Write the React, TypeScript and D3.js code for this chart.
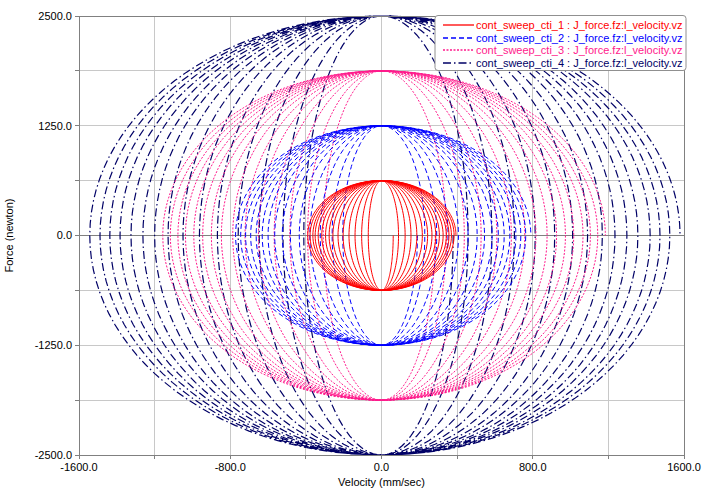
import React from 'react';
import * as d3 from 'd3';

// Axis ticks
const xMajorTicks = [-1600, -800, 0, 800, 1600];
const xGridTicks = [-1600, -1200, -800, -400, 0, 400, 800, 1200, 1600];
const yMajorTicks = [-2500, -1250, 0, 1250, 2500];
const yGridTicks = [-2500, -1875, -1250, -625, 0, 625, 1250, 1875, 2500];

// Series
const seriesNames = [
  'cont_sweep_cti_1 : J_force.fz:l_velocity.vz',
  'cont_sweep_cti_2 : J_force.fz:l_velocity.vz',
  'cont_sweep_cti_3 : J_force.fz:l_velocity.vz',
  'cont_sweep_cti_4 : J_force.fz:l_velocity.vz',
];
const forceAmplitudes = [625, 1250, 1875, 2500];

// Velocity amplitude of each half cycle (start quarter, left, right, left, ..., final quarter)
const velocity1 = [62, 70, 90, 105, 125, 140, 156, 172, 187, 203, 216, 230, 244, 257, 267, 277, 287, 296, 306, 316, 326, 335, 343, 351, 357, 363, 370, 378, 384, 390, 394];
const velocity2 = [190, 205, 229, 261, 292, 324, 352, 379, 407, 435, 458, 482, 506, 525, 545, 565, 585, 600, 618, 631, 649, 663, 679, 692, 711, 719, 737, 745, 763, 772, 790];
const velocity3 = [284, 308, 343, 391, 438, 485, 527, 568, 610, 651, 687, 722, 758, 787, 817, 847, 876, 900, 926, 946, 973, 993, 1017, 1037, 1066, 1077, 1105, 1117, 1144, 1157, 1184];
const velocity4 = [379, 411, 458, 521, 584, 647, 703, 758, 813, 868, 916, 963, 1011, 1050, 1090, 1129, 1168, 1200, 1235, 1262, 1298, 1325, 1356, 1383, 1421, 1437, 1473, 1489, 1525, 1543, 1579];
const velocities = [velocity1, velocity2, velocity3, velocity4];

const colors = ['#ff0000', '#0000ff', '#ff1a8c', '#000066'];
const dashes = ['none', '5,3', '2,1.5', '8,3,1.5,3'];

export default function App() {
  const W = 711, H = 491;
  const left = 79, right = 684, top = 16, bottom = 455;
  const x = d3.scaleLinear().domain([-1600, 1600]).range([left, right]);
  const y = d3.scaleLinear().domain([-2500, 2500]).range([bottom, top]);
  const font = '"Liberation Sans", Arial, sans-serif';

  const line = d3.line<[number, number]>().x(d => x(d[0])).y(d => y(d[1]));

  const buildPath = (amps: number[], A: number) => {
    const pts: [number, number][] = [];
    const n = amps.length;
    amps.forEach((a, k) => {
      const start = k === 0 ? Math.PI / 2 : k * Math.PI;
      const end = k === n - 1 ? k * Math.PI + Math.PI / 2 : (k + 1) * Math.PI;
      const steps = 60;
      for (let i = (k === 0 ? 0 : 1); i <= steps; i++) {
        const phi = start + (end - start) * (i / steps);
        pts.push([a * Math.sin(phi), A * Math.cos(phi)]);
      }
    });
    return line(pts) || '';
  };

  const gridColor = '#c8c8c8';
  const axisColor = '#808080';

  const legendX = 435, legendY = 15.5, legendW = 251, legendH = 55;

  return (
    <svg width={W} height={H} style={{ position: 'absolute', left: 0, top: 0, display: 'block', background: '#fff' }}>
      <defs>
        <clipPath id="plotClip">
          <rect x={left} y={top - 1} width={right - left} height={bottom - top + 2} />
        </clipPath>
      </defs>
      <rect x={0} y={0} width={W} height={H} fill="#fff" />
      {/* grid */}
      {xGridTicks.map(t => (
        <line key={'gx' + t} x1={x(t)} x2={x(t)} y1={top} y2={bottom} stroke={gridColor} strokeWidth={1} shapeRendering="crispEdges" />
      ))}
      {yGridTicks.map(t => (
        <line key={'gy' + t} x1={left} x2={right} y1={y(t)} y2={y(t)} stroke={gridColor} strokeWidth={1} shapeRendering="crispEdges" />
      ))}
      <line x1={left} x2={right} y1={y(0)} y2={y(0)} stroke={axisColor} strokeWidth={1} shapeRendering="crispEdges" />
      {/* series */}
      <g clipPath="url(#plotClip)">
        {[3, 2, 1, 0].map(i => (
          <path key={'s' + i} d={buildPath(velocities[i], forceAmplitudes[i])} fill="none" stroke={colors[i]}
            strokeWidth={i === 3 ? 1.2 : 1} strokeDasharray={dashes[i]} />
        ))}
      </g>
      {/* frame */}
      <rect x={left} y={top} width={right - left} height={bottom - top} fill="none" stroke={axisColor} strokeWidth={1} shapeRendering="crispEdges" />
      {/* ticks */}
      {xGridTicks.map(t => (
        <line key={'tx' + t} x1={x(t)} x2={x(t)} y1={bottom} y2={bottom + 4} stroke={axisColor} shapeRendering="crispEdges" />
      ))}
      {yGridTicks.map(t => (
        <line key={'ty' + t} x1={left - 4} x2={left} y1={y(t)} y2={y(t)} stroke={axisColor} shapeRendering="crispEdges" />
      ))}
      {xMajorTicks.map(t => (
        <text key={'lx' + t} x={x(t)} y={bottom + 16} textAnchor="middle" fontFamily={font} fontSize={11} fill="#000">{t.toFixed(1)}</text>
      ))}
      {yMajorTicks.map(t => (
        <text key={'ly' + t} x={left - 7} y={y(t)} dy="0.35em" textAnchor="end" fontFamily={font} fontSize={11} fill="#000">{t.toFixed(1)}</text>
      ))}
      <text x={(left + right) / 2} y={486} textAnchor="middle" fontFamily={font} fontSize={11} fill="#000">Velocity (mm/sec)</text>
      <text transform={`translate(13,${(top + bottom) / 2}) rotate(-90)`} textAnchor="middle" fontFamily={font} fontSize={11} fill="#000">Force (newton)</text>
      {/* legend */}
      <rect x={legendX} y={legendY} width={legendW} height={legendH} rx={3} ry={3} fill="#fff" stroke="#909090" strokeWidth={1} />
      {seriesNames.map((name, i) => {
        const ly = Math.round(25 + i * 12.5);
        return (
          <g key={'lg' + i}>
            <line x1={443} x2={474} y1={ly} y2={ly} stroke={colors[i]} strokeWidth={1.3} strokeDasharray={dashes[i]} />
            <text x={476} y={ly} dy="0.35em" fontFamily={font} fontSize={11} fill={colors[i]}>{name}</text>
          </g>
        );
      })}
    </svg>
  );
}
